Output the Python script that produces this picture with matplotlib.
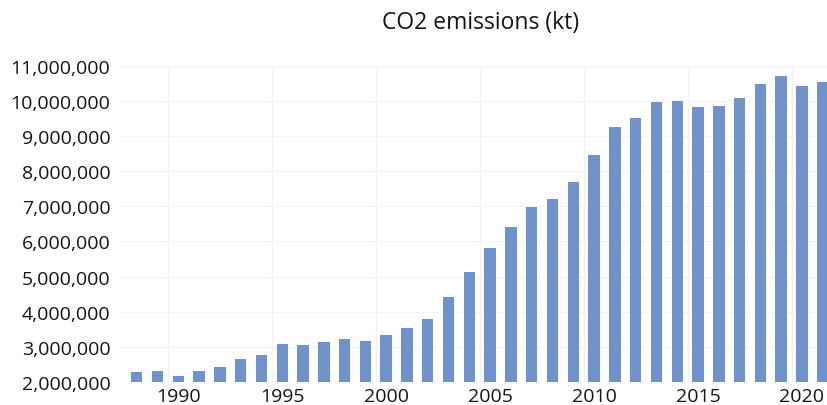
import matplotlib.pyplot as plt
from matplotlib.ticker import FuncFormatter
import numpy as np

years = list(range(1988, 2022))
emissions = [2.27, 2.31, 2.17, 2.30, 2.41, 2.64, 2.77, 3.08, 3.06, 3.13,
             3.23, 3.15, 3.34, 3.52, 3.80, 4.41, 5.12, 5.81, 6.42, 6.98,
             7.20, 7.70, 8.46, 9.27, 9.53, 9.97, 10.00, 9.85, 9.86, 10.09,
             10.50, 10.71, 10.43, 10.54]
emissions = [v * 1e6 for v in emissions]
label_years = [1990, 1995, 2000, 2005, 2010, 2015, 2020]

plt.rcParams['font.family'] = ['Open Sans', 'DejaVu Sans']

fig = plt.figure(figsize=(8.28, 4.06), dpi=100)
ax = fig.add_axes([0.145, 0.0574, 0.86, 0.777])

ax.bar(years, emissions, width=0.55, color='#7093cc', zorder=2)

ax.set_xlim(1987.2, 2021.45)
ax.set_ylim(2e6, 11e6)
ax.set_yticks(np.arange(2e6, 11.5e6, 1e6))
ax.yaxis.set_major_formatter(FuncFormatter(lambda v, p: f'{v:,.0f}'))
ax.set_xticks(label_years)
# vertical grid sits half a year left of each label
ax.set_xticks([y - 0.5 for y in label_years], minor=True)

ax.grid(axis='y', which='major', color='#f2f2f2', linewidth=0.9, zorder=0)
ax.grid(axis='x', which='minor', color='#f2f2f2', linewidth=0.9, zorder=0)
ax.tick_params(which='both', length=0)
ax.tick_params(axis='y', labelsize=14, pad=7, labelcolor='#151515')
ax.tick_params(axis='x', labelsize=14, pad=4, labelcolor='#151515')
for s in ax.spines.values():
    s.set_visible(False)

fig.text(481 / 828, 1 - 23 / 406, 'CO2 emissions (kt)', ha='center', va='center',
         fontsize=16.5, color='#151515')

fig.savefig('out.png', dpi=100)
